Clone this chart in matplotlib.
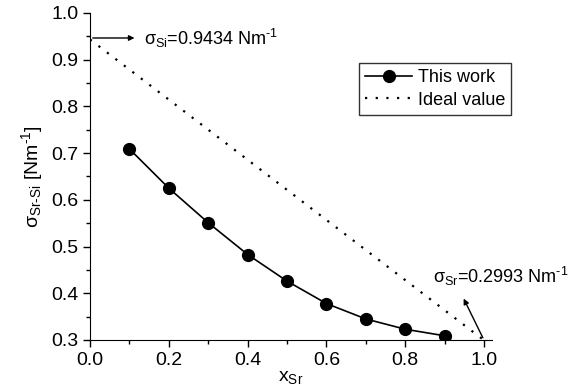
import matplotlib.pyplot as plt
from matplotlib.ticker import MultipleLocator

plt.rcParams['font.family'] = ['Liberation Sans', 'DejaVu Sans']
plt.rcParams['mathtext.fontset'] = 'custom'
plt.rcParams['mathtext.rm'] = 'Liberation Sans'
plt.rcParams['mathtext.it'] = 'Liberation Sans'
plt.rcParams['mathtext.sf'] = 'Liberation Sans'

# data
x_sr = [0.1, 0.2, 0.3, 0.4, 0.5, 0.6, 0.7, 0.8, 0.9]
sigma_work = [0.709, 0.625, 0.551, 0.483, 0.426, 0.378, 0.345, 0.323, 0.309]
x_ideal = [0.0, 1.0]
sigma_ideal = [0.9434, 0.2993]

fig = plt.figure(figsize=(5.71, 3.89), dpi=100)
ax = fig.add_axes([0.1576, 0.126, 0.704, 0.8406])

ax.plot(x_sr, sigma_work, color='black', lw=1.2, marker='o', ms=8.5, label='This work')
ax.plot(x_ideal, sigma_ideal, color='black', lw=1.6, ls=(0, (1, 3.8)), label='Ideal value')

ax.set_xlim(0, 1.02)
ax.set_ylim(0.3, 1.0)
ax.spines['top'].set_visible(False)
ax.spines['right'].set_visible(False)
ax.xaxis.set_major_locator(MultipleLocator(0.2))
ax.xaxis.set_minor_locator(MultipleLocator(0.1))
ax.yaxis.set_major_locator(MultipleLocator(0.1))
ax.yaxis.set_minor_locator(MultipleLocator(0.05))
ax.tick_params(which='major', direction='out', length=5, width=1, labelsize=14)
ax.tick_params(which='minor', direction='out', length=3, width=1)
ax.xaxis.set_major_formatter(plt.FormatStrFormatter('%.1f'))
ax.yaxis.set_major_formatter(plt.FormatStrFormatter('%.1f'))

ax.set_xlabel(r'x$_{\mathrm{Sr}}$', fontsize=14, labelpad=0)
ax.set_ylabel(r'$\sigma_{\text{Sr-Si}}$ [Nm$^{\text{-1}}$]', fontsize=14, labelpad=4)

ax.annotate('', xy=(0.12, 0.9465), xytext=(0.0, 0.9465),
            arrowprops=dict(arrowstyle='-|>', color='black', lw=1, mutation_scale=8))
ax.text(0.137, 0.9465, r'$\sigma_{\mathrm{Si}}$=0.9434 Nm$^{\text{-1}}$', fontsize=13, va='center')

ax.annotate('', xy=(0.945, 0.394), xytext=(1.0, 0.2993),
            arrowprops=dict(arrowstyle='-|>', color='black', lw=1, mutation_scale=8))
ax.text(0.87, 0.435, r'$\sigma_{\mathrm{Sr}}$=0.2993 Nm$^{\text{-1}}$', fontsize=13, va='center')

leg = ax.legend(loc='upper left', bbox_to_anchor=(359 / 571, 1 - 63 / 389),
                bbox_transform=fig.transFigure, fontsize=13, frameon=True,
                fancybox=False, edgecolor='black', handlelength=2.6,
                handletextpad=0.3, borderpad=0.35, labelspacing=0.3, borderaxespad=0)
leg.get_frame().set_linewidth(1)

fig.savefig('out.png', dpi=100)
